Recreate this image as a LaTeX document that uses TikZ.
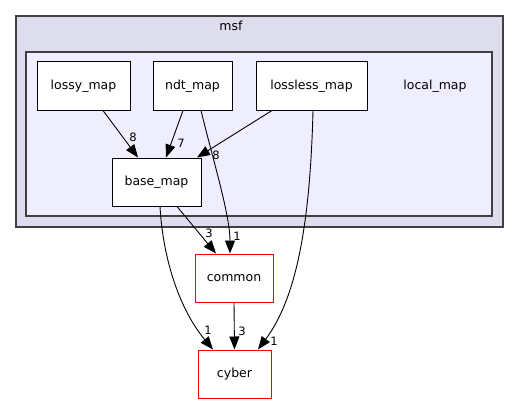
\documentclass[tikz,border=0pt]{standalone}
\usepackage{fontspec}
\setmainfont{DejaVu Sans}
\usetikzlibrary{arrows.meta}
\definecolor{msffill}{HTML}{DDDDEE}
\definecolor{localfill}{HTML}{EEEEFF}
\definecolor{clusterline}{HTML}{404040}
\tikzset{
  dirbox/.style={draw=black,fill=white,line width=1pt,minimum height=48pt,inner sep=0pt,font=\fontsize{12.5}{15}\selectfont},
  extbox/.style={dirbox,draw=red},
  dep/.style={-{Triangle[length=13pt,width=10pt]},line width=0.9pt},
  lbl/.style={inner sep=0pt,font=\fontsize{11.5}{13}\selectfont}
}
\begin{document}
\begin{tikzpicture}[x=1pt,y=-1pt]
\useasboundingbox (0,0) rectangle (519,404);

% Clusters
\draw[fill=msffill,draw=clusterline,line width=1.5pt] (16,16) rectangle (503,227);
\node[font=\fontsize{12.5}{15}\selectfont] (msf) at (231,26) {msf};
\draw[fill=localfill,draw=clusterline,line width=1.5pt] (26,52) rectangle (492,216);
\node[font=\fontsize{12.5}{15}\selectfont] (local) at (435,86) {local\_map};

% Directories
\node[dirbox,minimum width=93pt] (lossy) at (83.5,86) {lossy\_map};
\node[dirbox,minimum width=79pt] (ndt) at (192.5,86) {ndt\_map};
\node[dirbox,minimum width=111pt] (lossless) at (311.5,86) {lossless\_map};
\node[dirbox,minimum width=89pt] (base) at (156.5,182) {base\_map};
\node[extbox,minimum width=78pt] (common) at (234,278) {common};
\node[extbox,minimum width=73pt] (cyber) at (234.5,374) {cyber};

% Dependencies
\draw[dep] ([xshift=19.5pt]lossy.south) -- ([xshift=-18.5pt]base.north) node[lbl] at (133,137) {8};
\draw[dep] ([xshift=-9.5pt]ndt.south) -- ([xshift=9.5pt]base.north) node[lbl] at (181,143) {7};
\draw[dep] ([xshift=-39.5pt]lossless.south) -- ([xshift=40.5pt]base.north) node[lbl] at (216,155) {8};
\draw[dep] ([xshift=8.5pt]ndt.south) .. controls (213,160) and (230,215) .. ([xshift=-4pt]common.north) node[lbl] at (237,236) {1};
\draw[dep] ([xshift=1.5pt]lossless.south) .. controls (310,230) and (295,300) .. ([xshift=23.5pt]cyber.north) node[lbl] at (274,341) {1};
\draw[dep] ([xshift=20.5pt]base.south) -- ([xshift=-18pt]common.north) node[lbl] at (209,233) {3};
\draw[dep] ([xshift=3.5pt]base.south) .. controls (163,260) and (180,310) .. ([xshift=-21.5pt]cyber.north) node[lbl] at (208,330) {1};
\draw[dep] (common.south) -- (cyber.north) node[lbl] at (242,331) {3};

\end{tikzpicture}
\end{document}
